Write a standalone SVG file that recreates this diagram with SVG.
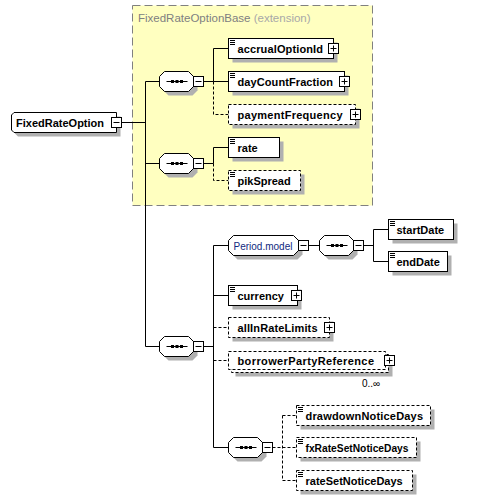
<svg xmlns="http://www.w3.org/2000/svg" xmlns:xlink="http://www.w3.org/1999/xlink" width="482" height="500" viewBox="0 0 482 500">
<style>
.box{fill:#fff;stroke:#000;stroke-width:1}
.dbox{fill:#fff;stroke:#000;stroke-width:1;stroke-dasharray:3,2}
.sh{fill:#b0b0b0;stroke:none}
.lbl{font-family:"Liberation Sans",Arial,sans-serif;font-size:11px;font-weight:bold;fill:#000}
.grp{font-family:"Liberation Sans",Arial,sans-serif;font-size:10px;fill:#102a80}
.occ{font-family:"Liberation Sans",Arial,sans-serif;font-size:10px;fill:#000}
.ttl{font-family:"Liberation Sans",Arial,sans-serif;font-size:11.5px;fill:#808080}
.ext{fill:#a8a8a8}
.ln{fill:none;stroke:#000;stroke-width:1}
.dl{fill:none;stroke:#000;stroke-width:1;stroke-dasharray:3,2}
</style>
<defs>
<g id="plus"><rect x="0" y="0" width="10" height="10" fill="#fff" stroke="#000"/><path d="M2,5H8M5,2V8" stroke="#000" fill="none"/></g>
<g id="minus"><rect x="0" y="0" width="10" height="10" fill="#fff" stroke="#000"/><path d="M2,5H8" stroke="#000" fill="none"/></g>
<path id="icon" d="M0,0H5M0,2H5M0,4H5" stroke="#000" fill="none"/>
<g id="seq">
<path d="M9,-6H33L38,-1V9L33,14H9L4,9V-1Z" class="sh"/>
<path d="M5,-10H29L34,-5V5L29,10H5L0,5V-5Z" fill="#fff" stroke="#000"/>
<path d="M7,0H28" stroke="#000" fill="none"/>
<rect x="11.5" y="-1.5" width="3" height="3" fill="#000"/>
<rect x="16" y="-1.5" width="3" height="3" fill="#000"/>
<rect x="20.5" y="-1.5" width="3" height="3" fill="#000"/>
<use xlink:href="#minus" href="#minus" x="34" y="-5"/>
</g>
</defs>

<g id="FixedRateOptionBase">
<rect x="132.5" y="5.5" width="240" height="200" fill="#ffffc0" stroke="#808080" stroke-dasharray="8,4"/>
<text x="138" y="22" class="ttl">FixedRateOptionBase <tspan class="ext">(extension)</tspan></text>
</g>

<g id="connectors">
<path class="ln" d="M121.5,122.5H145.5M145.5,81.5V346.5M145.5,81.5H159.5M145.5,163.5H159.5M145.5,346.5H159.5"/>
<path class="ln" d="M203.5,81.5H213.5M213.5,48.5V81.5M213.5,48.5H228.5M213.5,81.5H228.5"/>
<path class="dl" d="M213.5,81.5V114.5H228.5"/>
<path class="ln" d="M203.5,163.5H213.5M213.5,147.5V163.5M213.5,147.5H228.5"/>
<path class="dl" d="M213.5,163.5V180.5H228.5"/>
<path class="ln" d="M203.5,346.5H213.5M213.5,245.5V447.5M213.5,245.5H228.5M213.5,295.5H228.5M213.5,447.5H228.5"/>
<path class="dl" d="M213.5,327.5H228.5M213.5,360.5H228.5"/>
<path class="ln" d="M308.5,245.5H319.5M363.5,245.5H373.5M373.5,229.5V261.5M373.5,229.5H388.5M373.5,261.5H388.5"/>
<path class="dl" d="M272.5,447.5H296.5M282.5,415.5V480.5M282.5,415.5H296.5M282.5,480.5H296.5"/>
</g>

<g id="FixedRateOption">
<path d="M18,116.5H120.5V136.5H18L15,133.5V119.5Z" class="sh"/>
<path d="M14,112.5H116.5V132.5H14L11.5,130V115Z" class="box"/>
<text x="16" y="127" class="lbl">FixedRateOption</text>
<use xlink:href="#minus" href="#minus" x="111.5" y="117.5"/>
</g>

<g id="seq1"><use xlink:href="#seq" href="#seq" x="159.5" y="81.5"/></g>
<g id="seq2"><use xlink:href="#seq" href="#seq" x="159.5" y="163.5"/></g>
<g id="seq3"><use xlink:href="#seq" href="#seq" x="159.5" y="346.5"/></g>

<g id="accrualOptionId">
<rect x="232.5" y="42.5" width="105" height="20" class="sh"/>
<rect x="228.5" y="38.5" width="105" height="20" class="box"/>
<use xlink:href="#icon" href="#icon" x="230" y="40.5"/>
<text x="237.5" y="52.5" class="lbl" textLength="85.5" lengthAdjust="spacing">accrualOptionId</text>
<use xlink:href="#plus" href="#plus" x="328.5" y="43.5"/>
</g>
<g id="dayCountFraction">
<rect x="232.5" y="75.5" width="116" height="20" class="sh"/>
<rect x="228.5" y="71.5" width="116" height="20" class="box"/>
<use xlink:href="#icon" href="#icon" x="230" y="73.5"/>
<text x="237.5" y="85.5" class="lbl" textLength="95.5" lengthAdjust="spacing">dayCountFraction</text>
<use xlink:href="#plus" href="#plus" x="339.5" y="76.5"/>
</g>
<g id="paymentFrequency">
<rect x="232.5" y="108.5" width="127" height="20" class="sh"/>
<rect x="228.5" y="104.5" width="127" height="20" class="dbox"/>
<text x="237.5" y="118.5" class="lbl" textLength="105" lengthAdjust="spacing">paymentFrequency</text>
<use xlink:href="#plus" href="#plus" x="350.5" y="109.5"/>
</g>
<g id="rate">
<rect x="232.5" y="141.5" width="51" height="20" class="sh"/>
<rect x="228.5" y="137.5" width="51" height="20" class="box"/>
<use xlink:href="#icon" href="#icon" x="230" y="139.5"/>
<text x="237.5" y="151.5" class="lbl">rate</text>
</g>
<g id="pikSpread">
<rect x="232.5" y="174.5" width="72" height="20" class="sh"/>
<rect x="228.5" y="170.5" width="72" height="20" class="dbox"/>
<use xlink:href="#icon" href="#icon" x="230" y="172.5"/>
<text x="237.5" y="184.5" class="lbl">pikSpread</text>
</g>

<g id="Period.model">
<path d="M237.5,239.5H298.5L302.5,244.5V254.5L297.5,259.5H237.5L232.5,254.5V244.5Z" class="sh"/>
<path d="M233.5,235.5H293.5L298.5,240.5V250.5L293.5,255.5H233.5L228.5,250.5V240.5Z" class="box"/>
<text x="233.5" y="249.5" class="grp">Period.model</text>
<use xlink:href="#minus" href="#minus" x="298.5" y="240.5"/>
</g>
<g id="seqPeriod"><use xlink:href="#seq" href="#seq" x="319.5" y="245.5"/></g>
<g id="startDate">
<rect x="392.5" y="223.5" width="65" height="20" class="sh"/>
<rect x="388.5" y="219.5" width="65" height="20" class="box"/>
<use xlink:href="#icon" href="#icon" x="390" y="221.5"/>
<text x="396.5" y="233.5" class="lbl">startDate</text>
</g>
<g id="endDate">
<rect x="392.5" y="255.5" width="59" height="20" class="sh"/>
<rect x="388.5" y="251.5" width="59" height="20" class="box"/>
<use xlink:href="#icon" href="#icon" x="390" y="253.5"/>
<text x="396.5" y="265.5" class="lbl">endDate</text>
</g>

<g id="currency">
<rect x="232.5" y="289.5" width="69" height="20" class="sh"/>
<rect x="228.5" y="285.5" width="69" height="20" class="box"/>
<use xlink:href="#icon" href="#icon" x="230" y="287.5"/>
<text x="237.5" y="299.5" class="lbl">currency</text>
<use xlink:href="#plus" href="#plus" x="291.5" y="290.5"/>
</g>
<g id="allInRateLimits">
<rect x="232.5" y="321.5" width="101" height="20" class="sh"/>
<rect x="228.5" y="317.5" width="101" height="20" class="dbox"/>
<text x="237.5" y="331.5" class="lbl" textLength="80" lengthAdjust="spacing">allInRateLimits</text>
<use xlink:href="#plus" href="#plus" x="324.5" y="322.5"/>
</g>
<g id="borrowerPartyReference">
<rect x="235.5" y="358.5" width="157" height="18" class="sh"/>
<rect x="231.5" y="354.5" width="157" height="18" class="dbox"/>
<rect x="228.5" y="351.5" width="157" height="18" class="dbox"/>
<text x="237.5" y="364.5" class="lbl" textLength="136.5" lengthAdjust="spacing">borrowerPartyReference</text>
<use xlink:href="#plus" href="#plus" x="384.5" y="355.5"/>
<text x="362" y="387" class="occ">0..∞</text>
</g>

<g id="seq4"><use xlink:href="#seq" href="#seq" x="228.5" y="447.5"/></g>
<g id="drawdownNoticeDays">
<rect x="300.5" y="409.5" width="134" height="20" class="sh"/>
<rect x="296.5" y="405.5" width="134" height="20" class="dbox"/>
<use xlink:href="#icon" href="#icon" x="298" y="407.5"/>
<text x="305.5" y="419.5" class="lbl" textLength="117.5" lengthAdjust="spacing">drawdownNoticeDays</text>
</g>
<g id="fxRateSetNoticeDays">
<rect x="300.5" y="441.5" width="120" height="20" class="sh"/>
<rect x="296.5" y="437.5" width="120" height="20" class="dbox"/>
<use xlink:href="#icon" href="#icon" x="298" y="439.5"/>
<text x="305.5" y="451.5" class="lbl" textLength="103" lengthAdjust="spacingAndGlyphs">fxRateSetNoticeDays</text>
</g>
<g id="rateSetNoticeDays">
<rect x="300.5" y="474.5" width="116" height="20" class="sh"/>
<rect x="296.5" y="470.5" width="116" height="20" class="dbox"/>
<use xlink:href="#icon" href="#icon" x="298" y="472.5"/>
<text x="305.5" y="484.5" class="lbl">rateSetNoticeDays</text>
</g>
</svg>
